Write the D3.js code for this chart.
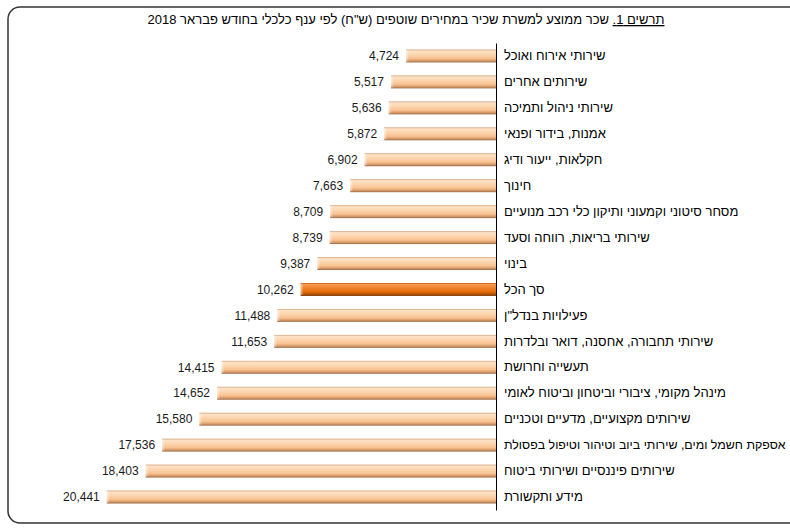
<!DOCTYPE html>
<html>
<head>
<meta charset="utf-8">
<script src="https://cdn.jsdelivr.net/npm/d3@7"></script>
<style>
  html, body { margin: 0; padding: 0; background: #fff; }
  svg { display: block; font-family: "Liberation Sans", Arial, sans-serif; }
</style>
</head>
<body>
<svg id="chart" width="790" height="528"></svg>
<script>
const categories = [
  "שירותי אירוח ואוכל",
  "שירותים אחרים",
  "שירותי ניהול ותמיכה",
  "אמנות, בידור ופנאי",
  "חקלאות, ייעור ודיג",
  "חינוך",
  "מסחר סיטוני וקמעוני ותיקון כלי רכב מנועיים",
  "שירותי בריאות, רווחה וסעד",
  "בינוי",
  "סך הכל",
  "פעילויות בנדל\"ן",
  "שירותי תחבורה, אחסנה, דואר ובלדרות",
  "תעשייה וחרושת",
  "מינהל מקומי, ציבורי וביטחון וביטוח לאומי",
  "שירותים מקצועיים, מדעיים וטכניים",
  "אספקת חשמל ומים, שירותי ביוב וטיהור וטיפול בפסולת",
  "שירותים פיננסיים ושירותי ביטוח",
  "מידע ותקשורת"
];
const values = [4724, 5517, 5636, 5872, 6902, 7663, 8709, 8739, 9387, 10262, 11488, 11653, 14415, 14652, 15580, 17536, 18403, 20441];
const highlighted = ["סך הכל"];
const titlePrefix = "תרשים 1.";
const titleText = "שכר ממוצע למשרת שכיר במחירים שוטפים (ש\"ח) לפי ענף כלכלי בחודש פבראר 2018";

const data = categories.map((c, i) => ({ category: c, value: values[i] }));

const svg = d3.select("#chart");
const defs = svg.append("defs");

function grad(id, stops) {
  const g = defs.append("linearGradient").attr("id", id)
    .attr("x1", 0).attr("y1", 0).attr("x2", 0).attr("y2", 1);
  stops.forEach(([o, c]) => g.append("stop").attr("offset", o).attr("stop-color", c));
}
grad("gLight", [["0%", "#d6a47c"], ["12%", "#fde2c6"], ["38%", "#fcd6b0"], ["68%", "#f9c291"], ["86%", "#d89c6b"], ["100%", "#9b6a45"]]);
grad("gDark", [["0%", "#c05a10"], ["12%", "#f89a50"], ["38%", "#f0822a"], ["68%", "#e46c0a"], ["86%", "#b45407"], ["100%", "#7a3805"]]);
const lg = defs.append("linearGradient").attr("id", "gLeft").attr("x1", 0).attr("x2", 1).attr("y1", 0).attr("y2", 0);
lg.append("stop").attr("offset", "0%").attr("stop-color", "#ffffff").attr("stop-opacity", 0.55);
lg.append("stop").attr("offset", "100%").attr("stop-color", "#ffffff").attr("stop-opacity", 0);

// Frame
svg.append("rect")
  .attr("x", 8).attr("y", 7).attr("width", 800).attr("height", 516)
  .attr("rx", 12).attr("ry", 12)
  .attr("fill", "none").attr("stroke", "#333").attr("stroke-width", 1.5);

// Title
const title = svg.append("text")
  .attr("x", 406).attr("y", 24)
  .attr("direction", "rtl")
  .attr("text-anchor", "middle")
  .attr("font-size", 13)
  .attr("fill", "#000");
title.append("tspan").attr("text-decoration", "underline").text(titlePrefix);
title.append("tspan").text(" " + titleText);

// Scales
const x = d3.scaleLinear().domain([0, 22000]).range([496, 77.1]);
const y = d3.scaleBand().domain(categories).range([43, 510]).paddingInner(0.5).paddingOuter(0.25);

// Bars
const bars = svg.append("g");
bars.selectAll("rect.bar").data(data).join("rect")
  .attr("class", "bar")
  .attr("x", d => x(d.value))
  .attr("y", d => y(d.category))
  .attr("width", d => x(0) - x(d.value))
  .attr("height", y.bandwidth())
  .attr("fill", d => highlighted.includes(d.category) ? "url(#gDark)" : "url(#gLight)");
bars.selectAll("rect.bevel").data(data).join("rect")
  .attr("class", "bevel")
  .attr("x", d => x(d.value))
  .attr("y", d => y(d.category) + 1)
  .attr("width", 3)
  .attr("height", y.bandwidth() - 2)
  .attr("fill", "url(#gLeft)");

// Value labels
svg.append("g").selectAll("text").data(data).join("text")
  .attr("x", d => x(d.value) - 7)
  .attr("y", d => y(d.category) + y.bandwidth() / 2)
  .attr("dy", "0.35em")
  .attr("text-anchor", "end")
  .attr("font-size", 12)
  .attr("fill", "#1a1a1a")
  .text(d => d3.format(",")(d.value));

// Category axis
const axis = svg.append("g")
  .attr("transform", `translate(${x(0)},0)`)
  .call(d3.axisRight(y).tickSize(0).tickSizeOuter(0).tickPadding(8));
axis.select(".domain").attr("stroke", "#000").attr("stroke-width", 1);
axis.selectAll(".tick text")
  .attr("font-size", 13)
  .attr("font-family", "\"Liberation Sans\", Arial, sans-serif")
  .attr("fill", "#000")
  .each(function() {
    const maxW = 786 - 504;
    const w = this.getComputedTextLength();
    if (w > maxW) d3.select(this).attr("font-size", 13 * maxW / w);
  });
</script>
</body>
</html>
